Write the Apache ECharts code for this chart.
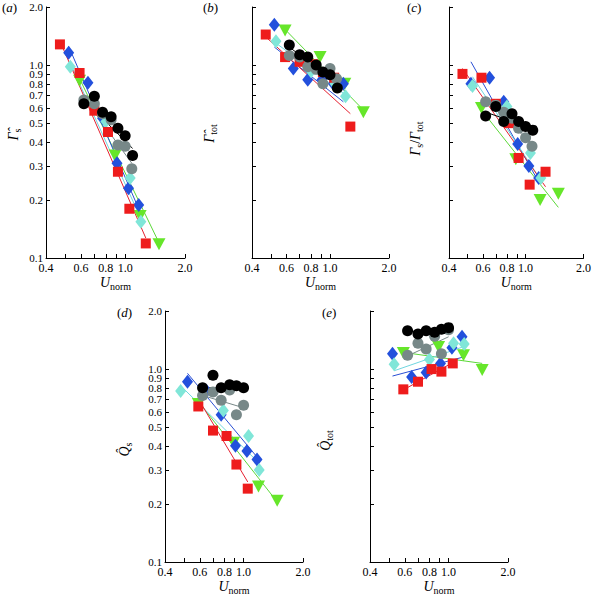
<!DOCTYPE html>
<html><head><meta charset="utf-8">
<script src="https://cdn.jsdelivr.net/npm/echarts@6/dist/echarts.min.js"></script>
<style>html,body{margin:0;padding:0;background:#fff}#c{width:594px;height:598px}</style>
</head><body><div id="c"></div>
<script>
// ---------- DATA ----------
// U_norm values of each series
const uRed   = [0.47, 0.59, 0.70, 0.82, 0.92, 1.05, 1.27];
const uBlue  = [0.52, 0.65, 0.77, 0.91, 1.04, 1.17];
const uCyan  = [0.53, 0.80, 1.06, 1.20];
const uCyanD = [0.48, 0.79, 1.06, 1.20];
const uGreen = [0.59, 0.89, 1.19, 1.48];
const uBlack = [0.62, 0.70, 0.77, 0.85, 0.92, 1.00, 1.09];
const uGrey  = [0.62, 0.70, 0.77, 0.85, 0.92, 1.00, 1.08];

// (a) Gamma_s hat
const gammaS = {
  red:   [1.28, 0.91, 0.58, 0.45, 0.28, 0.18, 0.119],
  blue:  [1.16, 0.81, 0.53, 0.31, 0.23, 0.188],
  cyan:  [0.98, 0.51, 0.26, 0.154],
  green: [0.83, 0.34, 0.165, 0.118],
  black: [0.63, 0.69, 0.57, 0.54, 0.47, 0.43, 0.34],
  grey:  [0.66, 0.63, 0.56, 0.52, 0.385, 0.38, 0.29]
};
const gammaSFit = {red:[1.33,0.127], blue:[1.25,0.18], cyan:[1.02,0.16], green:[0.85,0.12], black:[0.66,0.37], grey:[0.68,0.31]};

// (b) Gamma_tot hat
const gammaTot = {
  red:   [1.44, 1.10, 1.04, 1.01, 0.92, 0.86, 0.48],
  blue:  [1.62, 0.96, 0.84, 0.84, 0.80, 0.80],
  cyan:  [1.33, 0.93, 0.80, 0.69],
  green: [1.51, 1.10, 0.80, 0.57],
  black: [1.27, 1.13, 1.10, 1.00, 0.92, 0.89, 0.76],
  grey:  [1.12, 1.10, 0.98, 0.95, 0.80, 0.96, 0.85]
};
const gammaTotFit = {red:[1.40,0.56], blue:[1.24,0.645], cyan:[1.30,0.70], green:[1.53,0.585], black:[1.24,0.80], grey:[1.12,0.85]};

// (c) Gamma_s / Gamma_tot
const gammaRatio = {
  red:   [0.90, 0.86, 0.63, 0.50, 0.33, 0.24, 0.28],
  blue:  [0.80, 0.86, 0.645, 0.39, 0.30, 0.26],
  cyan:  [0.78, 0.61, 0.35, 0.26],
  green: [0.60, 0.325, 0.20, 0.215],
  black: [0.544, 0.61, 0.51, 0.56, 0.51, 0.48, 0.46],
  grey:  [0.645, 0.62, 0.57, 0.53, 0.47, 0.42, 0.38]
};
const gammaRatioFit = {red:[0.96,0.234], blue:[1.04,0.248], cyan:[0.87,0.254], green:[0.585,0.183], black:[0.57,0.47], grey:[0.66,0.39]};

// (d) Q_s hat
const qS = {
  red:   [null, 0.64, 0.48, 0.45, 0.32, 0.24, null],
  blue:  [0.86, 0.77, 0.58, 0.40, 0.376, 0.34],
  cyan:  [0.77, 0.61, 0.45, 0.30],
  green: [0.66, 0.415, 0.246, 0.208],
  black: [0.80, 0.93, 0.80, 0.83, 0.82, 0.80, null],
  grey:  [0.73, 0.76, 0.69, 0.78, 0.58, 0.65, null]
};
const qSFit = {red:[0.70,0.26], blue:[0.95,0.35], cyan:[0.82,0.325], green:[0.68,0.205], black:[0.80,0.80], grey:[0.73,0.63]};

// (e) Q_tot hat
const qTot = {
  red:   [null, 0.785, 0.86, 1.00, 0.97, 1.07, null],
  blue:  [1.20, 0.91, 0.96, 1.07, 1.29, 1.47],
  cyan:  [1.06, 1.12, 1.36, 1.35],
  green: [1.21, 1.30, 1.18, 0.99],
  black: [1.58, 1.52, 1.58, 1.55, 1.61, 1.64, null],
  grey:  [1.18, 1.36, 1.27, 1.48, 1.20, 1.60, null]
};
const qTotFit = {red:[0.78,1.08], blue:[0.92,1.15], cyan:[0.98,1.31], green:[1.22,1.07], black:[1.56,1.63], grey:[1.17,1.47]};

// tick values
const xTickValues  = [0.4, 0.5, 0.6, 0.7, 0.8, 0.9, 1.0, 2.0];
const xLabelValues = [0.4, 0.6, 0.8, 1.0, 2.0];
const yTickValues  = [0.1, 0.2, 0.3, 0.4, 0.5, 0.6, 0.7, 0.8, 0.9, 1.0, 2.0];

// ---------- STYLE / LAYOUT ----------
const FONT = 'Liberation Serif';
const styles = {
  green: {color:'#66e62a', line:'#5cd83a', symbol:'triangle', size:[13,12], rotate:180},
  blue:  {color:'#2350dc', line:'#2a4fd4', symbol:'diamond', size:[11,14]},
  cyan:  {color:'#80e6d8', line:'#6fd6e0', symbol:'diamond', size:[11,14]},
  red:   {color:'#ee1c1c', line:'#e62030', symbol:'rect', size:10},
  grey:  {color:'#778888', line:'#778888', symbol:'circle', size:11},
  black: {color:'#000000', line:'#000000', symbol:'circle', size:11}
};
const order = ['green','blue','cyan','red','grey','black'];
const xs = {red:uRed, blue:uBlue, cyan:uCyan, green:uGreen, black:uBlack, grey:uGrey};

const panels = [
  {grid:{left:46, top:7, width:139, height:251}, y:gammaS, fit:gammaSFit, labels:true, name:'{g|Γ̂}{s|s}', gap:24, pad:4, letter:'a', lx:2, ly:1},
  {grid:{left:252, top:7, width:137, height:251}, y:gammaTot, fit:gammaTotFit, labels:false, name:'{g|Γ̂}{s|tot}', gap:34, pad:2, letter:'b', lx:203, ly:1},
  {grid:{left:449, top:7, width:138, height:251}, y:gammaRatio, fit:gammaRatioFit, labels:false, name:'{g|Γ}{s|s}{n|/}{g|Γ}{s|tot}', gap:25, pad:12, letter:'c', lx:407, ly:1},
  {grid:{left:165, top:311, width:138, height:251}, y:qS, fit:qSFit, labels:true, name:'{g|Q̂}{s|s}', gap:32, pad:26, letter:'d', lx:117, ly:306, xo:{cyan:uCyanD}},
  {grid:{left:370, top:311, width:138, height:251}, y:qTot, fit:qTotFit, labels:false, name:'{g|Q̂}{s|tot}', gap:36, pad:8, letter:'e', lx:322, ly:306}
];

const axisLine = {show:true, onZero:false, lineStyle:{color:'#000', width:1}};
const grids = [], xAxes = [], yAxes = [], series = [], graphics = [];

panels.forEach((p, i) => {
  grids.push(p.grid);
  xAxes.push({
    type:'log', logBase:10, min:0.4, max:2, gridIndex:i,
    axisLine, splitLine:{show:false},
    axisTick:{show:true, inside:true, length:4, lineStyle:{color:'#000'}, customValues:xTickValues},
    axisLabel:{show:true, customValues:xLabelValues, formatter:v=>Number(v).toFixed(1), fontFamily:FONT, fontSize:12, color:'#000', margin:4},
    name:'{u|U}{s|norm}', nameLocation:'middle', nameGap:15,
    nameTextStyle:{rich:{
      u:{fontFamily:FONT, fontStyle:'italic', fontSize:14, lineHeight:18, color:'#000'},
      s:{fontFamily:FONT, fontSize:10, lineHeight:10, verticalAlign:'bottom', color:'#000'}
    }}
  });
  yAxes.push({
    type:'log', logBase:10, min:0.1, max:2, gridIndex:i,
    axisLine, splitLine:{show:false},
    axisTick:{show:true, inside:true, length:4, lineStyle:{color:'#000'}, customValues:yTickValues},
    axisLabel:{show:p.labels, customValues:yTickValues, formatter:v=>Number(v).toFixed(1), fontFamily:FONT, fontSize:11, color:'#000', margin:3},
    name:p.name, nameLocation:'middle', nameRotate:90, nameGap:p.gap,
    nameTextStyle:{padding:[0,p.pad,0,0], rich:{
      g:{fontFamily:FONT, fontStyle:'italic', fontSize:14, lineHeight:18, color:'#000'},
      n:{fontFamily:FONT, fontSize:14, lineHeight:18, color:'#000'},
      s:{fontFamily:FONT, fontSize:10, lineHeight:10, verticalAlign:'bottom', color:'#000'}
    }}
  });
  // fit lines
  order.forEach(k => {
    const ux = (p.xo && p.xo[k]) || xs[k];
    const vals = p.y[k];
    const valid = ux.filter((x, j) => vals[j] != null);
    const x0 = Math.min(...valid), x1 = Math.max(...valid);
    series.push({
      type:'line', xAxisIndex:i, yAxisIndex:i, silent:true, symbol:'none', z:2,
      data:[[x0, p.fit[k][0]], [x1, p.fit[k][1]]],
      lineStyle:{color:styles[k].line, width:1}
    });
  });
  // points
  order.forEach(k => {
    const ux = (p.xo && p.xo[k]) || xs[k];
    const vals = p.y[k];
    const st = styles[k];
    series.push({
      type:'scatter', xAxisIndex:i, yAxisIndex:i, silent:true, z:3,
      symbol:st.symbol, symbolSize:st.size, symbolRotate:st.rotate || 0,
      itemStyle:{color:st.color, opacity:1},
      data: ux.map((x, j) => vals[j] == null ? null : [x, vals[j]]).filter(d => d)
    });
  });
  graphics.push({
    type:'text', left:p.lx, top:p.ly,
    style:{text:'({i|' + p.letter + '})', fontFamily:FONT, fontSize:13, fill:'#000',
      rich:{i:{fontFamily:FONT, fontStyle:'italic', fontSize:13, fill:'#000'}}}
  });
});

const chart = echarts.init(document.getElementById('c'), null, {renderer:'svg'});
chart.setOption({
  animation:false,
  backgroundColor:'#fff',
  grid:grids, xAxis:xAxes, yAxis:yAxes, series, graphic:graphics
});
</script>
</body></html>
